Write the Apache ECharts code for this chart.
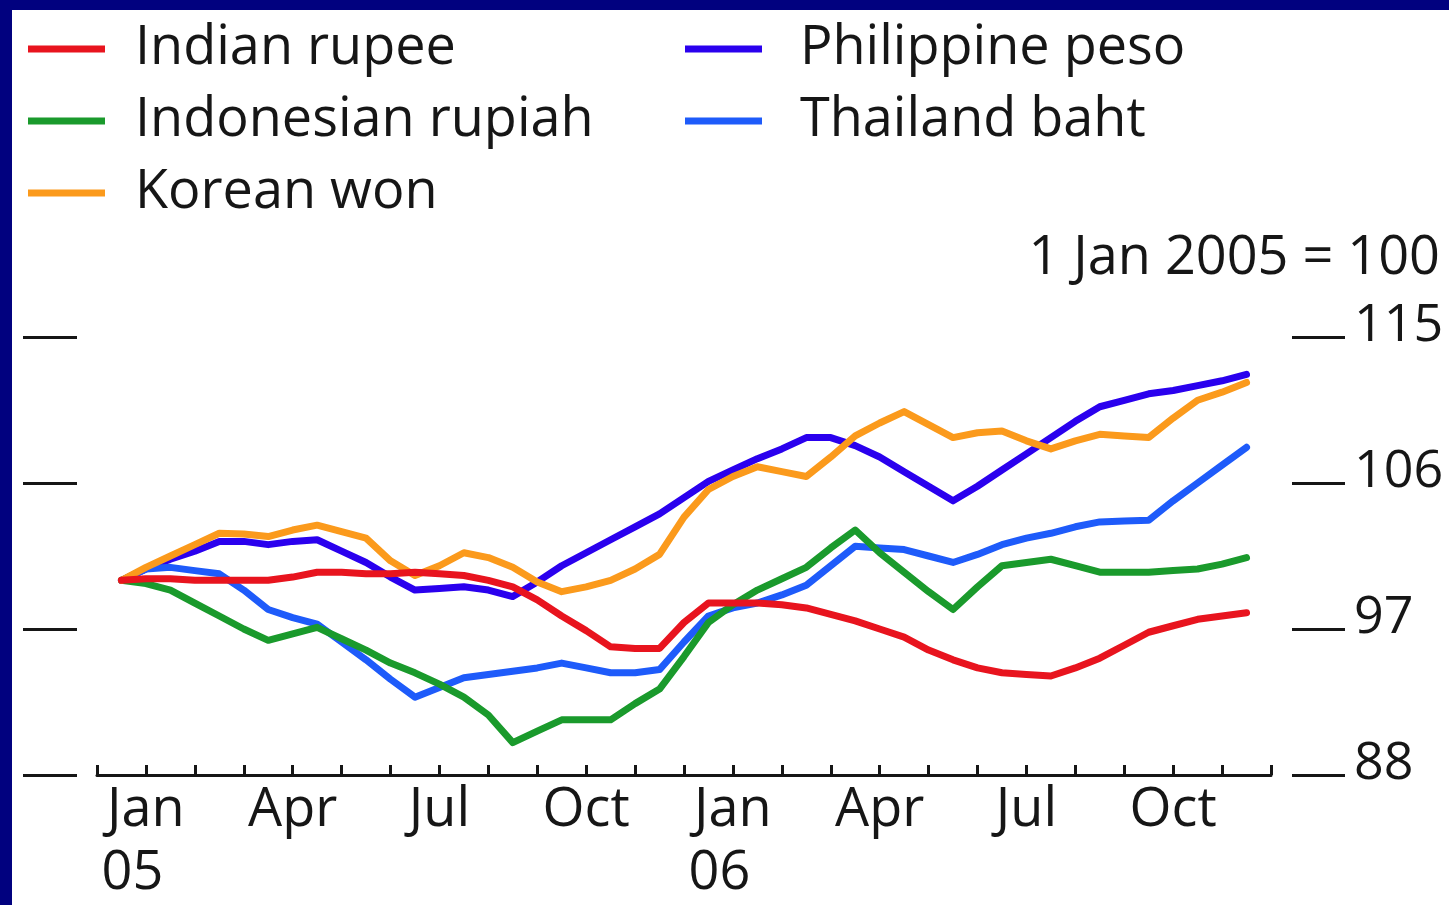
<!DOCTYPE html>
<html>
<head>
<meta charset="utf-8">
<script src="https://cdn.jsdelivr.net/npm/echarts@6/dist/echarts.min.js"></script>
<style>
    html, body { margin: 0; padding: 0; width: 1449px; height: 905px; background: #01017f; overflow: hidden; }
    #chart { position: absolute; left: 12px; top: 10px; width: 1437px; height: 895px; background: #fff; }
</style>
</head>
<body>
<div id="chart"></div>
<script>
    // half-month points, 15 Dec 2004 .. 15 Dec 2006 (axis ends carry no data)
    var dates = ['2004-12-15',
        '2005-01-01', '2005-01-15', '2005-02-01', '2005-02-15', '2005-03-01', '2005-03-15',
        '2005-04-01', '2005-04-15', '2005-05-01', '2005-05-15', '2005-06-01', '2005-06-15',
        '2005-07-01', '2005-07-15', '2005-08-01', '2005-08-15', '2005-09-01', '2005-09-15',
        '2005-10-01', '2005-10-15', '2005-11-01', '2005-11-15', '2005-12-01', '2005-12-15',
        '2006-01-01', '2006-01-15', '2006-02-01', '2006-02-15', '2006-03-01', '2006-03-15',
        '2006-04-01', '2006-04-15', '2006-05-01', '2006-05-15', '2006-06-01', '2006-06-15',
        '2006-07-01', '2006-07-15', '2006-08-01', '2006-08-15', '2006-09-01', '2006-09-15',
        '2006-10-01', '2006-10-15', '2006-11-01', '2006-11-15', '2006-12-01', '2006-12-15'
    ];

    var labelDates = ['2005-01-15', '2005-04-15', '2005-07-15', '2005-10-15',
        '2006-01-15', '2006-04-15', '2006-07-15', '2006-10-15'];
    var labelTexts = ['Jan\n05\u2002', 'Apr', 'Jul', 'Oct', 'Jan\n06\u2002', 'Apr', 'Jul', 'Oct'];

    // 1 Jan 2005 = 100, values from 2005-01-01 to 2006-12-01
    var indianRupee = [100.0, 100.1, 100.1, 100.0, 100.0, 100.0, 100.0, 100.2, 100.5, 100.5, 100.4, 100.4,
        100.5, 100.4, 100.3, 100.0, 99.6, 98.8, 97.8, 96.9, 95.9, 95.8, 95.8, 97.4,
        98.6, 98.6, 98.6, 98.5, 98.3, 97.9, 97.5, 97.0, 96.5, 95.7, 95.1, 94.6,
        94.3, 94.2, 94.1, 94.6, 95.2, 96.0, 96.8, 97.2, 97.6, 97.8, 98.0];
    var indonesianRupiah = [100.0, 99.8, 99.4, 98.6, 97.8, 97.0, 96.3, 96.7, 97.1, 96.4, 95.7, 94.9,
        94.3, 93.6, 92.8, 91.7, 90.0, 90.7, 91.4, 91.4, 91.4, 92.4, 93.3, 95.3,
        97.4, 98.5, 99.4, 100.1, 100.8, 102.0, 103.1, 101.7, 100.5, 99.3, 98.2, 99.6,
        100.9, 101.1, 101.3, 100.9, 100.5, 100.5, 100.5, 100.6, 100.7, 101.0, 101.4];
    var koreanWon = [100.0, 100.8, 101.5, 102.2, 102.9, 102.85, 102.7, 103.1, 103.4, 103.0, 102.6, 101.2,
        100.3, 100.9, 101.7, 101.4, 100.8, 99.9, 99.3, 99.6, 100.0, 100.7, 101.6, 103.9,
        105.6, 106.4, 107.0, 106.7, 106.4, 107.6, 108.9, 109.7, 110.4, 109.6, 108.8, 109.1,
        109.2, 108.6, 108.1, 108.6, 109.0, 108.9, 108.8, 110.0, 111.1, 111.6, 112.2];
    var philippinePeso = [100.0, 100.7, 101.3, 101.8, 102.4, 102.4, 102.2, 102.4, 102.5, 101.8, 101.1, 100.2,
        99.4, 99.5, 99.6, 99.4, 99.0, 99.9, 100.9, 101.7, 102.5, 103.3, 104.1, 105.1,
        106.1, 106.8, 107.5, 108.1, 108.8, 108.8, 108.3, 107.6, 106.7, 105.8, 104.9, 105.8,
        106.8, 107.8, 108.8, 109.8, 110.7, 111.1, 111.5, 111.7, 112.0, 112.3, 112.7];
    var thailandBaht = [100.0, 100.7, 100.8, 100.6, 100.4, 99.4, 98.2, 97.7, 97.3, 96.2, 95.1, 93.9,
        92.8, 93.4, 94.0, 94.2, 94.4, 94.6, 94.9, 94.6, 94.3, 94.3, 94.5, 96.2,
        97.8, 98.3, 98.6, 99.1, 99.7, 100.9, 102.1, 102.0, 101.9, 101.5, 101.1, 101.6,
        102.2, 102.6, 102.9, 103.3, 103.6, 103.65, 103.7, 104.9, 106.0, 107.1, 108.2];

    var yMin = 88, yMax = 115, yStep = 9;

    var font = '"Open Sans", "Noto Sans", sans-serif';
    var ink = '#161616';

    var myChart = echarts.init(document.getElementById('chart'));

    function pad(arr) {
        return [null].concat(arr, [null]);
    }

    function lineSeries(name, color, vals) {
        return {
            name: name,
            type: 'line',
            data: pad(vals),
            symbol: 'none',
            lineStyle: { color: color, width: 7, join: 'round', cap: 'round' },
            itemStyle: { color: color },
            silent: true
        };
    }

    function isTickDate(i, v) {
        return v.slice(8) === '15';
    }

    var legendText = {
        color: ink,
        fontFamily: font,
        fontSize: 54,
        fontWeight: 500,
        lineHeight: 50
    };

    var option = {
        backgroundColor: '#fff',
        animation: false,
        legend: [{
            data: ['Indian rupee', 'Indonesian rupiah', 'Korean won'],
            orient: 'vertical',
            left: 16,
            top: 12,
            padding: 0,
            itemWidth: 77,
            itemHeight: 7,
            itemGap: 18,
            icon: 'rect',
            selectedMode: false,
            textStyle: Object.assign({ padding: [0, 0, 0, 25] }, legendText)
        }, {
            data: ['Philippine peso', 'Thailand baht'],
            orient: 'vertical',
            left: 673,
            top: 12,
            padding: 0,
            itemWidth: 77,
            itemHeight: 7,
            itemGap: 18,
            icon: 'rect',
            selectedMode: false,
            textStyle: Object.assign({ padding: [0, 0, 0, 33] }, legendText)
        }],
        graphic: [{
            type: 'text',
            right: 9,
            top: 222,
            style: {
                text: '1 Jan 2005 = 100',
                fill: ink,
                font: '500 54px ' + font
            }
        }],
        grid: {
            left: 85,
            right: 178,
            top: 327,
            bottom: 130
        },
        xAxis: {
            type: 'category',
            data: dates,
            boundaryGap: false,
            axisLine: { lineStyle: { color: ink, width: 3 } },
            axisTick: {
                inside: true,
                length: 10,
                interval: isTickDate,
                lineStyle: { color: ink, width: 3 }
            },
            axisLabel: {
                interval: function (i, v) { return labelDates.indexOf(v) >= 0; },
                formatter: function (v) { return labelTexts[labelDates.indexOf(v)]; },
                color: ink,
                fontFamily: font,
                fontSize: 54,
                fontWeight: 500,
                lineHeight: 63,
                margin: 4
            },
            splitLine: { show: false }
        },
        yAxis: [{
            type: 'value',
            position: 'right',
            min: yMin,
            max: yMax,
            interval: yStep,
            offset: 21,
            axisLine: { show: false },
            axisTick: { show: true, length: 53, lineStyle: { color: ink, width: 3 } },
            axisLabel: {
                color: ink,
                fontFamily: font,
                fontSize: 52,
                fontWeight: 500,
                margin: 62,
                verticalAlign: 'bottom',
                padding: [0, 0, -15, 0]
            },
            splitLine: { show: false }
        }, {
            type: 'value',
            position: 'left',
            min: yMin,
            max: yMax,
            interval: yStep,
            offset: 20,
            axisLine: { show: false },
            axisTick: { show: true, length: 54, lineStyle: { color: ink, width: 3 } },
            axisLabel: { show: false },
            splitLine: { show: false }
        }],
        series: [
            lineSeries('Philippine peso', '#2a00ee', philippinePeso),
            lineSeries('Thailand baht', '#1e5bfa', thailandBaht),
            lineSeries('Indonesian rupiah', '#1a9a2c', indonesianRupiah),
            lineSeries('Korean won', '#fb9a1c', koreanWon),
            lineSeries('Indian rupee', '#e8141e', indianRupee)
        ]
    };

    myChart.setOption(option);
</script>
</body>
</html>
